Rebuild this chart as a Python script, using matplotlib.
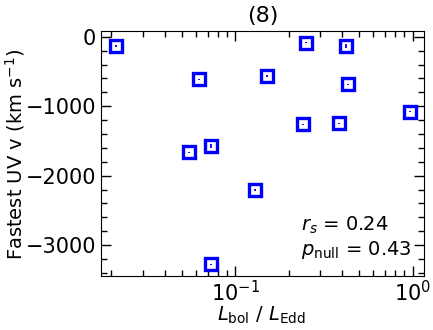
import numpy as np
import matplotlib.pyplot as plt

# Eddington ratio and fastest UV outflow velocity
l_edd = [0.0213, 0.0624, 0.0552, 0.0729, 0.0729, 0.1297, 0.151,
         0.2514, 0.240, 0.424, 0.434, 0.387, 0.962]
v_uv = [-138, -613, -1663, -1568, -3275, -2206, -565,
        -86, -1261, -134, -681, -1247, -1079]
v_err = [15, 10, 10, 30, 10, 8, 10, 10, 8, 25, 8, 8, 8]

r_s = 0.24
p_null = 0.43

fig = plt.figure(figsize=(4.33, 3.3), dpi=100)
ax = fig.add_axes([101/433, 1 - 276/330, 323/433, 245.3/330])

ax.errorbar(l_edd, v_uv, yerr=v_err, fmt='s', mfc='none', mec='blue',
            mew=2.4, ms=8, ecolor='blue', elinewidth=1.3, capsize=0)

ax.set_xscale('log')
ax.set_xlim(0.0175, 1.16)
ax.set_ylim(-3445, 88)
ax.set_yticks([0, -1000, -2000, -3000])
ax.yaxis.set_minor_locator(plt.MultipleLocator(200))

ax.tick_params(which='both', direction='in', top=True, right=True, labelsize=15)
ax.tick_params(which='major', length=7, width=1)
ax.tick_params(which='minor', length=4, width=1)
ax.tick_params(axis='x', pad=3)

ax.set_title('(8)', fontsize=16)
# axis labels placed on the figure so they sit where the original has them
fig.text(261/433, 1 - 315/330, r'$L_{\rm bol}$ / $L_{\rm Edd}$', fontsize=14,
         ha='center', va='center')
fig.text(15/433, 1 - 154/330, r'Fastest UV v (km s$^{-1}$)', fontsize=14,
         rotation=90, ha='center', va='center')

ax.text(0.62, 0.06, f'$r_s$ = {r_s:.2f}\n$p_{{\\rm null}}$ = {p_null:.2f}',
        transform=ax.transAxes, fontsize=14, ha='left', va='bottom')

fig.savefig('out.png', dpi=100)
